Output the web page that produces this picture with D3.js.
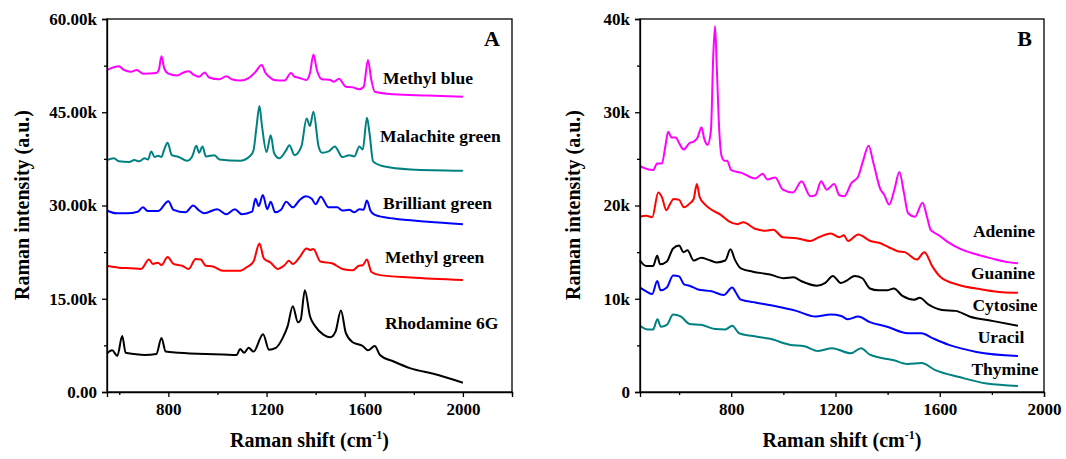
<!DOCTYPE html>
<html>
<head>
<meta charset="utf-8">
<script src="https://cdn.jsdelivr.net/npm/d3@7"></script>
<style>
  body { margin: 0; background: #fff; }
  text { font-family: "Liberation Serif", "Times New Roman", serif; font-weight: bold; }
</style>
</head>
<body>
<script>
  // panel A spectra, [Raman shift (cm-1), intensity (k counts)]
  var methylBlue = [[550,51.8],[598,52.4],[619,51.8],[647,51.5],[672,51.8],[696,51.2],[751,51.3],[761,51.8],[772,54.0],[783,52.1],[800,51.2],[835,50.9],[862,51.4],[883,51.6],[904,51.0],[925,50.7],[948,51.4],[966,50.6],[1008,50.3],[1036,50.8],[1058,50.3],[1093,50.1],[1127,50.5],[1155,51.5],[1180,52.6],[1196,51.3],[1217,50.5],[1231,50.2],[1273,50.1],[1300,51.3],[1314,50.7],[1328,50.6],[1363,50.2],[1377,51.3],[1391,54.3],[1405,51.8],[1426,50.3],[1460,50.2],[1474,49.9],[1495,50.4],[1523,49.1],[1551,49.0],[1578,48.7],[1596,49.1],[1613,53.4],[1627,50.2],[1641,48.3],[1718,47.9],[1857,47.7],[2000,47.5]];
  var malachiteGreen = [[550,37.3],[578,37.6],[598,37.1],[640,37.0],[661,37.3],[682,37.1],[703,37.6],[717,37.4],[730,38.7],[744,37.8],[758,38.0],[772,37.8],[783,39.0],[797,40.1],[814,38.1],[842,37.8],[876,37.2],[897,37.9],[914,39.6],[925,38.5],[939,39.5],[953,37.9],[988,38.1],[1008,37.4],[1092,37.2],[1134,38.0],[1147,38.9],[1159,42.6],[1171,46.0],[1182,42.6],[1200,38.6],[1217,41.3],[1231,38.4],[1252,37.6],[1280,38.9],[1293,39.7],[1314,38.1],[1342,39.5],[1363,44.0],[1377,42.8],[1391,45.1],[1412,39.5],[1426,38.5],[1453,38.7],[1478,39.5],[1509,37.8],[1537,38.1],[1558,37.9],[1578,39.5],[1592,39.0],[1609,44.1],[1620,41.5],[1634,37.1],[1676,36.3],[1787,35.8],[2000,35.6]];
  var brilliantGreen = [[550,29.2],[589,28.75],[631,28.75],[675,29.0],[696,29.7],[717,29.1],[758,29.1],[800,30.7],[821,29.3],[870,28.9],[901,30.0],[925,29.2],[946,28.75],[999,29.4],[1036,28.6],[1071,29.4],[1099,28.6],[1141,29.0],[1155,31.1],[1168,29.9],[1185,31.7],[1203,29.4],[1217,30.6],[1235,28.9],[1259,29.3],[1280,30.6],[1307,29.7],[1335,30.9],[1360,31.5],[1384,31.1],[1400,30.2],[1421,31.4],[1453,29.7],[1488,29.7],[1509,29.2],[1537,29.3],[1558,28.9],[1578,29.4],[1595,29.3],[1609,30.8],[1623,29.2],[1641,28.5],[1718,27.9],[1857,27.4],[2000,27.0]];
  var methylGreen = [[550,20.3],[598,20.0],[647,19.9],[689,19.8],[721,21.3],[737,20.6],[758,20.8],[772,20.4],[797,21.7],[821,20.6],[856,20.3],[883,19.8],[911,21.4],[932,21.3],[953,20.3],[981,20.2],[1022,19.5],[1092,19.5],[1120,20.1],[1147,21.0],[1171,23.9],[1189,21.5],[1217,20.8],[1245,19.8],[1273,20.4],[1291,21.1],[1307,20.6],[1335,21.7],[1363,23.1],[1377,22.85],[1391,23.0],[1419,21.0],[1467,20.7],[1509,19.8],[1551,19.6],[1576,20.3],[1592,20.4],[1609,21.3],[1627,19.3],[1662,18.8],[1787,18.4],[2000,18.0]];
  var rhodamine6G = [[550,6.2],[571,6.7],[592,5.8],[612,9.0],[626,6.3],[661,6.1],[703,5.95],[751,6.1],[772,8.7],[789,6.5],[842,6.3],[953,6.1],[1022,6.05],[1078,5.95],[1092,6.9],[1109,6.3],[1127,7.1],[1147,6.5],[1186,9.3],[1210,6.8],[1238,7.1],[1266,8.7],[1286,10.6],[1307,13.8],[1328,11.2],[1339,11.6],[1356,16.35],[1377,12.2],[1398,10.6],[1433,9.2],[1460,8.8],[1481,9.7],[1503,13.1],[1523,9.5],[1551,8.0],[1592,7.4],[1613,6.7],[1641,7.4],[1662,5.95],[1718,4.9],[1787,3.8],[1884,2.9],[2000,1.5]];

  // panel B spectra
  var adenine = [[450,24.26],[467,24.0],[500,23.8],[516,24.5],[534,24.5],[547,26.3],[558,27.9],[571,27.3],[587,27.3],[600,26.7],[617,26.0],[640,26.7],[658,26.9],[671,27.3],[686,28.4],[696,27.2],[709,26.5],[722,28.0],[731,36.0],[738,39.25],[745,34.5],[754,28.1],[763,25.3],[774,24.8],[784,24.8],[800,23.8],[840,23.5],[892,22.9],[921,23.4],[938,22.8],[969,23.0],[998,21.7],[1037,21.4],[1070,22.6],[1103,21.0],[1123,21.1],[1145,22.6],[1166,21.7],[1195,22.3],[1215,21.1],[1234,21.0],[1261,22.4],[1287,23.1],[1307,24.9],[1327,26.4],[1346,24.5],[1373,21.7],[1386,21.2],[1406,20.1],[1426,21.7],[1445,23.6],[1463,21.3],[1478,19.2],[1505,18.8],[1534,20.3],[1551,18.8],[1565,17.4],[1578,17.1],[1597,16.8],[1630,16.1],[1683,15.3],[1736,14.8],[1802,14.3],[1868,13.9],[1900,13.8]];
  var guanine = [[450,18.83],[474,18.9],[497,18.75],[520,21.4],[534,20.9],[551,19.5],[566,20.2],[579,20.7],[600,20.6],[619,19.8],[640,20.2],[656,20.7],[668,22.3],[679,20.9],[700,20.1],[727,19.5],[760,19.0],[791,18.3],[825,18.0],[846,18.2],[892,17.5],[932,17.3],[961,17.4],[998,16.6],[1051,16.5],[1103,16.2],[1136,16.6],[1182,17.0],[1215,16.6],[1232,16.8],[1248,16.2],[1287,16.9],[1334,16.2],[1367,16.0],[1406,15.5],[1439,15.1],[1466,15.0],[1512,14.2],[1541,15.0],[1571,13.5],[1604,12.3],[1670,11.5],[1762,11.0],[1841,10.7],[1900,10.65]];
  var cytosine = [[450,14.1],[474,13.5],[500,13.5],[516,14.6],[527,13.7],[553,14.0],[577,15.4],[600,15.7],[617,15.0],[632,15.2],[656,14.1],[685,14.4],[711,14.2],[744,13.9],[777,14.1],[797,15.3],[814,14.2],[837,13.25],[883,12.9],[949,12.6],[1002,12.2],[1039,12.3],[1068,11.9],[1128,11.4],[1161,11.7],[1190,12.45],[1220,11.7],[1240,11.9],[1273,12.45],[1303,12.2],[1332,11.1],[1365,10.9],[1398,10.9],[1424,11.1],[1457,10.3],[1503,9.9],[1523,10.1],[1556,9.4],[1609,8.8],[1661,8.7],[1714,8.1],[1806,7.6],[1900,7.1]];
  var uracil = [[450,11.2],[474,10.8],[497,10.5],[516,11.9],[529,10.9],[553,11.2],[577,12.5],[600,12.4],[619,11.55],[640,11.4],[672,11.0],[725,10.8],[771,10.4],[804,11.2],[817,10.7],[837,9.9],[892,9.6],[971,9.2],[1050,8.7],[1123,8.1],[1182,8.3],[1222,8.15],[1248,7.8],[1287,8.1],[1332,7.5],[1398,7.0],[1477,6.3],[1530,6.3],[1570,5.8],[1635,5.05],[1741,4.3],[1900,3.85]];
  var thymine = [[450,7.1],[480,6.7],[500,6.7],[517,7.8],[530,7.0],[553,7.2],[577,8.3],[606,8.1],[640,7.3],[685,7.2],[738,6.75],[777,6.7],[804,7.1],[830,6.3],[883,6.0],[949,5.7],[1028,5.05],[1081,4.9],[1134,4.4],[1187,4.7],[1259,4.15],[1298,4.7],[1332,4.0],[1424,3.4],[1477,3.0],[1530,3.1],[1583,2.35],[1675,1.6],[1780,0.9],[1900,0.65]];

  var namesA = ["Methyl blue", "Malachite green", "Brilliant green", "Methyl green", "Rhodamine 6G"];
  var namesB = ["Adenine", "Guanine", "Cytosine", "Uracil", "Thymine"];
  var yTicksA = [0, 15, 30, 45, 60];
  var yTicksB = [0, 10, 20, 30, 40];
  var xTicks = [800, 1200, 1600, 2000];

  var svg = d3.select("body").append("svg")
    .attr("width", 1066)
    .attr("height", 459);

  function panel(opt) {
    var x = d3.scaleLinear().domain(opt.xDomain).range([opt.left, opt.right]);
    var y = d3.scaleLinear().domain(opt.yDomain).range([392, 19]);
    var g = svg.append("g");

    // frame
    g.append("rect")
      .attr("x", opt.left).attr("y", 19)
      .attr("width", opt.right - opt.left).attr("height", 392 - 19)
      .attr("fill", "none").attr("stroke", "#000").attr("stroke-width", 1.3);

    var line = d3.line()
      .x(function(d) { return x(d[0]); })
      .y(function(d) { return y(d[1]); })
      .curve(d3.curveMonotoneX);

    opt.series.forEach(function(s) {
      g.append("path")
        .datum(s.data)
        .attr("d", line)
        .attr("fill", "none")
        .attr("stroke", s.color)
        .attr("stroke-width", 2)
        .attr("stroke-linejoin", "round");
    });

    // axes
    var xAxis = g.append("g").attr("transform", "translate(0,392)")
      .call(d3.axisBottom(x).tickValues(xTicks).tickSize(5).tickPadding(6).tickFormat(d3.format("d")));
    g.append("g").attr("transform", "translate(0,392)")
      .call(d3.axisBottom(x).tickValues(opt.xMinor).tickSize(3).tickFormat(""))
      .select(".domain").remove();
    var yAxis = g.append("g").attr("transform", "translate(" + opt.left + ",0)")
      .call(d3.axisLeft(y).tickValues(opt.yTicks).tickSize(5).tickPadding(5).tickFormat(opt.yFormat));
    g.append("g").attr("transform", "translate(" + opt.left + ",0)")
      .call(d3.axisLeft(y).tickValues(opt.yMinor).tickSize(3).tickFormat(""))
      .select(".domain").remove();

    g.selectAll(".domain").attr("stroke-width", 1.3);
    g.selectAll(".tick line").attr("stroke-width", 1.3);
    xAxis.selectAll("text").attr("font-size", 17).attr("font-family", null).attr("fill", "#000");
    yAxis.selectAll("text").attr("font-size", 17).attr("font-family", null).attr("fill", "#000");

    // axis titles
    var xt = g.append("text")
      .attr("x", (opt.left + opt.right) / 2).attr("y", 447)
      .attr("text-anchor", "middle").attr("font-size", 20);
    xt.append("tspan").text("Raman shift (cm");
    xt.append("tspan").attr("font-size", 12).attr("dy", -8).text("-1");
    xt.append("tspan").attr("dy", 8).text(")");

    g.append("text")
      .attr("transform", "translate(" + opt.yTitleX + ",205) rotate(-90)")
      .attr("text-anchor", "middle").attr("font-size", 20)
      .text("Raman intensity (a.u.)");

    g.append("text")
      .attr("x", opt.right - 12).attr("y", 46)
      .attr("text-anchor", "end").attr("font-size", 22)
      .text(opt.tag);

    opt.labels.forEach(function(l) {
      g.append("text")
        .attr("x", l.x).attr("y", l.y)
        .attr("text-anchor", opt.labelAnchor).attr("font-size", 17.5)
        .text(l.name);
    });
  }

  panel({
    left: 107, right: 512,
    xDomain: [550, 2200], yDomain: [0, 60],
    xMinor: [600, 1000, 1400, 1800, 2200],
    yTicks: yTicksA, yMinor: [7.5, 22.5, 37.5, 52.5],
    yFormat: function(d) { return d === 0 ? "0.00" : d.toFixed(2) + "k"; },
    yTitleX: 29, tag: "A", labelAnchor: "start",
    series: [
      {data: methylBlue, color: "#ff00ff"},
      {data: malachiteGreen, color: "#008080"},
      {data: brilliantGreen, color: "#0000ff"},
      {data: methylGreen, color: "#ff0000"},
      {data: rhodamine6G, color: "#000000"}
    ],
    labels: [
      {name: namesA[0], x: 383, y: 84},
      {name: namesA[1], x: 380, y: 142},
      {name: namesA[2], x: 383, y: 209},
      {name: namesA[3], x: 385, y: 263},
      {name: namesA[4], x: 385, y: 329}
    ]
  });

  panel({
    left: 640, right: 1044,
    xDomain: [450, 2000], yDomain: [0, 40],
    xMinor: [600, 1000, 1400, 1800],
    yTicks: yTicksB, yMinor: [5, 15, 25, 35],
    yFormat: function(d) { return d === 0 ? "0" : d + "k"; },
    yTitleX: 580, tag: "B", labelAnchor: "middle",
    series: [
      {data: adenine, color: "#ff00ff"},
      {data: guanine, color: "#ff0000"},
      {data: cytosine, color: "#000000"},
      {data: uracil, color: "#0000ff"},
      {data: thymine, color: "#008080"}
    ],
    labels: [
      {name: namesB[0], x: 1004, y: 237},
      {name: namesB[1], x: 1003, y: 279},
      {name: namesB[2], x: 1005, y: 311},
      {name: namesB[3], x: 1001, y: 343},
      {name: namesB[4], x: 1005, y: 375}
    ]
  });
</script>
</body>
</html>
